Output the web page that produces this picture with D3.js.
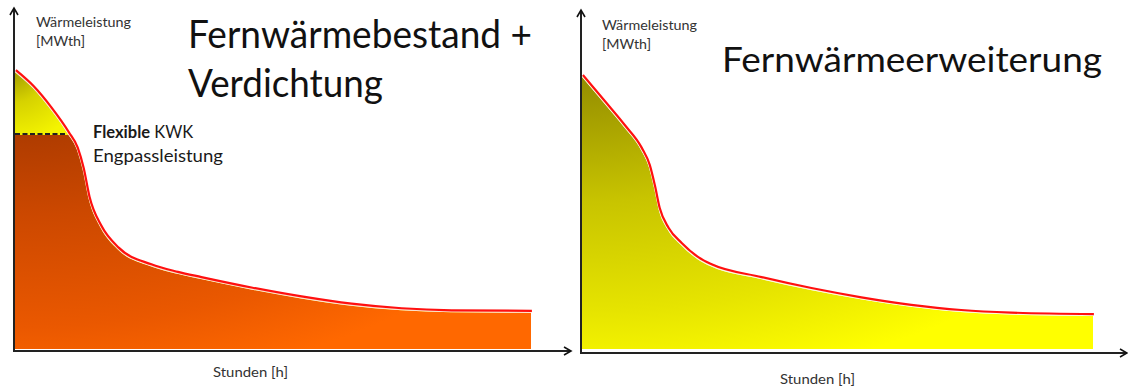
<!DOCTYPE html>
<html>
<head>
<meta charset="utf-8">
<script src="https://cdn.jsdelivr.net/npm/d3@7"></script>
<style>
  html, body { margin: 0; padding: 0; background: #fff; }
  svg { display: block; }
  text { font-family: Lato, "Open Sans", sans-serif; }
</style>
</head>
<body>
<svg id="chart" width="1128" height="387"></svg>
<script>
// Annual load duration curves (hours sorted by heat demand)
const hoursBestand = [0, 300, 600, 900, 1050, 1150, 1250, 1450, 1750, 2300, 2750, 3150, 4000, 4850, 5700, 6550, 7400, 8760];
const loadBestand  = [95.8, 90.3, 83.0, 74.3, 69.0, 62.0, 52.0, 42.0, 34.3, 28.6, 26.0, 24.2, 20.6, 17.5, 15.0, 13.4, 12.7, 12.5];

const hoursErweiterung = [0, 376, 718, 1010, 1146, 1232, 1317, 1471, 1694, 1985, 2207, 3063, 3918, 4774, 5630, 6485, 7341, 8760];
const loadErweiterung  = [94.1, 85.1, 76.8, 68.9, 63.0, 56.1, 48.1, 41.2, 36.0, 31.0, 28.6, 24.2, 20.4, 17.2, 14.6, 12.8, 11.9, 11.4];

// Flexible CHP bottleneck capacity (same units as the load)
const kwkCapacity = [74.4];

const panelTitles = [["Fernwärmebestand +", "Verdichtung"], ["Fernwärmeerweiterung"]];
const yAxisLabel = ["Wärmeleistung", "[MWth]"];
const xAxisLabel = "Stunden [h]";
const kwkLabelBold = "Flexible";
const kwkLabelRest = " KWK";
const kwkLabelLine2 = "Engpassleistung";

const svg = d3.select("#chart");
const defs = svg.append("defs");

defs.append("marker")
  .attr("id", "arrow").attr("viewBox", "0 0 10 10")
  .attr("refX", 8).attr("refY", 5)
  .attr("markerWidth", 10).attr("markerHeight", 10)
  .attr("markerUnits", "userSpaceOnUse")
  .attr("orient", "auto")
  .append("path").attr("d", "M1,1 L8,5 L1,9")
  .attr("fill", "none").attr("stroke", "#111").attr("stroke-width", 1.6);

function radial(id, stops, user) {
  const g = defs.append("radialGradient").attr("id", id);
  if (user) {
    g.attr("gradientUnits", "userSpaceOnUse")
      .attr("cx", user[0]).attr("cy", user[1]).attr("fx", user[0]).attr("fy", user[1]).attr("r", user[2]);
  } else {
    g.attr("cx", 0).attr("cy", 0).attr("fx", 0).attr("fy", 0).attr("r", 1.15);
  }
  stops.forEach(([o, c]) => g.append("stop").attr("offset", o).attr("stop-color", c));
}
radial("gradBrown", [[0, "#983200"], [0.45, "#cc4800"], [0.8, "#ea5800"], [1, "#ff6800"]]);
radial("gradYellowSmall", [[0, "#a09a00"], [0.45, "#d6d200"], [1, "#f4f400"]], [14, 70, 72]);
radial("gradYellow", [[0, "#948d00"], [0.4, "#c8c400"], [0.75, "#e6e400"], [1, "#ffff00"]]);

const panels = [
  { hours: hoursBestand, load: loadBestand, left: 15, right: 531, axisX: 14, axisY: 351, axisEnd: 571, axisTop: 8, base: 349, kwk: true,
    fill: "url(#gradBrown)", rim: "#fbe0cc" },
  { hours: hoursErweiterung, load: loadErweiterung, left: 582, right: 1093, axisX: 581, axisY: 353, axisEnd: 1127, axisTop: 10, base: 349, kwk: false,
    fill: "url(#gradYellow)", rim: "#fbfbd8" }
];

panels.forEach((p, i) => {
  const data = p.hours.map((h, k) => ({ h, v: p.load[k] }));
  const x = d3.scaleLinear().domain([0, 8760]).range([p.left, p.right]);
  const y = d3.scaleLinear().domain([0, 100]).range([p.base, p.base - 289]);
  const g = svg.append("g");

  const area = d3.area().x(d => x(d.h)).y0(y(0)).y1(d => y(d.v)).curve(d3.curveMonotoneX);
  const line = d3.line().x(d => x(d.h)).y(d => y(d.v)).curve(d3.curveMonotoneX);

  if (p.kwk) {
    // peak share above the CHP capacity
    g.append("path").datum(data).attr("d", area).attr("fill", "url(#gradYellowSmall)");
    const clipId = "kwkClip";
    defs.append("clipPath").attr("id", clipId).append("rect")
      .attr("x", p.left).attr("y", y(kwkCapacity[0]) + 1)
      .attr("width", p.right - p.left + 2).attr("height", y(0) - y(kwkCapacity[0]));
    g.append("path").datum(data).attr("d", area).attr("fill", p.fill)
      .attr("clip-path", `url(#${clipId})`);
  } else {
    g.append("path").datum(data).attr("d", area).attr("fill", p.fill);
  }

  // pale rim and red envelope along the top edge
  g.append("path").datum(data).attr("d", line)
    .attr("fill", "none").attr("stroke", p.rim).attr("stroke-width", 1.6)
    .attr("transform", "translate(0.5,-0.8)");
  g.append("path").datum(data).attr("d", line)
    .attr("fill", "none").attr("stroke", "#ff1010").attr("stroke-width", 2.2)
    .attr("transform", "translate(0.9,-2)");

  if (p.kwk) {
    // intersection of capacity level with the curve
    let hx = 0;
    for (let k = 1; k < data.length; k++) {
      if (data[k].v <= kwkCapacity[0]) {
        const a = data[k - 1], b = data[k];
        hx = a.h + (a.v - kwkCapacity[0]) / (a.v - b.v) * (b.h - a.h);
        break;
      }
    }
    g.append("line")
      .attr("x1", p.left).attr("x2", x(hx) - 2)
      .attr("y1", y(kwkCapacity[0])).attr("y2", y(kwkCapacity[0]))
      .attr("stroke", "#222").attr("stroke-width", 2).attr("stroke-dasharray", "5,2.5");

    const t = g.append("text").attr("x", 93).attr("y", 138).attr("font-size", 16.5).attr("fill", "#1a1a1a");
    t.append("tspan").attr("font-weight", "bold").text(kwkLabelBold);
    t.append("tspan").text(kwkLabelRest);
    g.append("text").attr("x", 93).attr("y", 162).attr("font-size", 16.5).attr("fill", "#1a1a1a")
      .attr("textLength", 130).attr("lengthAdjust", "spacingAndGlyphs").text(kwkLabelLine2);
  }

  // axes with arrowheads
  g.append("line").attr("x1", p.axisX).attr("x2", p.axisX)
    .attr("y1", p.axisY + 1).attr("y2", p.axisTop)
    .attr("stroke", "#222").attr("stroke-width", 2).attr("marker-end", "url(#arrow)");
  g.append("line").attr("x1", p.axisX - 1).attr("x2", p.axisEnd)
    .attr("y1", p.axisY).attr("y2", p.axisY)
    .attr("stroke", "#222").attr("stroke-width", 2).attr("marker-end", "url(#arrow)");

  // axis captions
  const lx = i === 0 ? 36 : 602;
  const ly = i === 0 ? 27 : 30;
  g.append("text").attr("x", lx).attr("y", ly).attr("font-size", 13).attr("fill", "#333")
    .attr("textLength", 95).attr("lengthAdjust", "spacingAndGlyphs").text(yAxisLabel[0]);
  g.append("text").attr("x", lx).attr("y", ly + 19).attr("font-size", 13).attr("fill", "#333")
    .attr("textLength", 49).attr("lengthAdjust", "spacingAndGlyphs").text(yAxisLabel[1]);
  g.append("text").attr("x", i === 0 ? 213 : 780).attr("y", i === 0 ? 377 : 384)
    .attr("font-size", 12.5).attr("fill", "#333")
    .attr("textLength", 75).attr("lengthAdjust", "spacingAndGlyphs").text(xAxisLabel);
});

// panel titles
const titleSpecs = [
  { x: 188, y: [48, 97], len: [344, 195] },
  { x: 722, y: [72], len: [380] }
];
panelTitles.forEach((lines, i) => {
  lines.forEach((s, k) => {
    svg.append("text").attr("x", titleSpecs[i].x).attr("y", titleSpecs[i].y[k])
      .attr("font-size", i === 0 ? 38 : 34).attr("fill", "#111")
      .attr("textLength", titleSpecs[i].len[k]).attr("lengthAdjust", "spacingAndGlyphs")
      .text(s);
  });
});
</script>
</body>
</html>
